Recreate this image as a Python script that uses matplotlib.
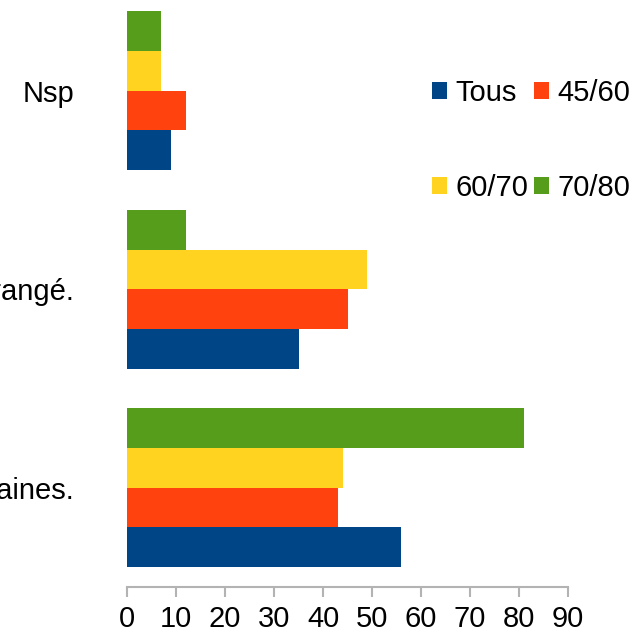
import numpy as np
from matplotlib import pyplot as plt
from matplotlib.patches import Patch

plt.rcParams['font.family'] = ['Liberation Sans', 'DejaVu Sans']

categories = ["Certaines.", "Dérangé.", "Nsp"]
series = ["Tous", "45/60", "60/70", "70/80"]
tous = [56, 35, 9]
age_45_60 = [43, 45, 12]
age_60_70 = [44, 49, 7]
age_70_80 = [81, 12, 7]
colors = ["#004586", "#ff420e", "#ffd320", "#579d1c"]

fig = plt.figure(figsize=(6.32, 6.33), dpi=100)
ax = fig.add_axes([127 / 632, 46 / 633, 441 / 632, 595.5 / 633])

y = np.arange(len(categories))
h = 0.2
values = [tous, age_45_60, age_60_70, age_70_80]
for i, (vals, col) in enumerate(zip(values, colors)):
    ax.barh(y + (i - 1.5) * h, vals, height=h, color=col, linewidth=0)

ax.set_xlim(0, 90)
ax.set_ylim(-0.5, 2.5)
ax.set_xticks(range(0, 91, 10))
ax.set_yticks(y)
ax.set_yticklabels(categories)
for s in ["left", "right", "top"]:
    ax.spines[s].set_visible(False)
ax.spines["bottom"].set_color("#b3b3b3")
ax.spines["bottom"].set_linewidth(1.5)
ax.tick_params(axis="x", direction="out", length=7, width=1.5, color="#b3b3b3",
               labelsize=21, pad=6, labelcolor="black")
ax.tick_params(axis="y", length=0, labelsize=21, pad=38, labelcolor="black")

# legend laid out row-wise: Tous, 45/60 / 60/70, 70/80
order = [0, 2, 1, 3]
handles = [Patch(facecolor=colors[i], edgecolor="none") for i in order]
labels = [series[i] for i in order]
fig.legend(handles, labels, ncol=2, loc="upper left",
           bbox_to_anchor=(432 / 632, 1 - 79 / 633), frameon=False,
           fontsize=21, handlelength=0.5, handleheight=0.5,
           handletextpad=0.3, columnspacing=0.2, labelspacing=2.3, borderpad=0,
           borderaxespad=0)

fig.savefig("out.png", dpi=100)
